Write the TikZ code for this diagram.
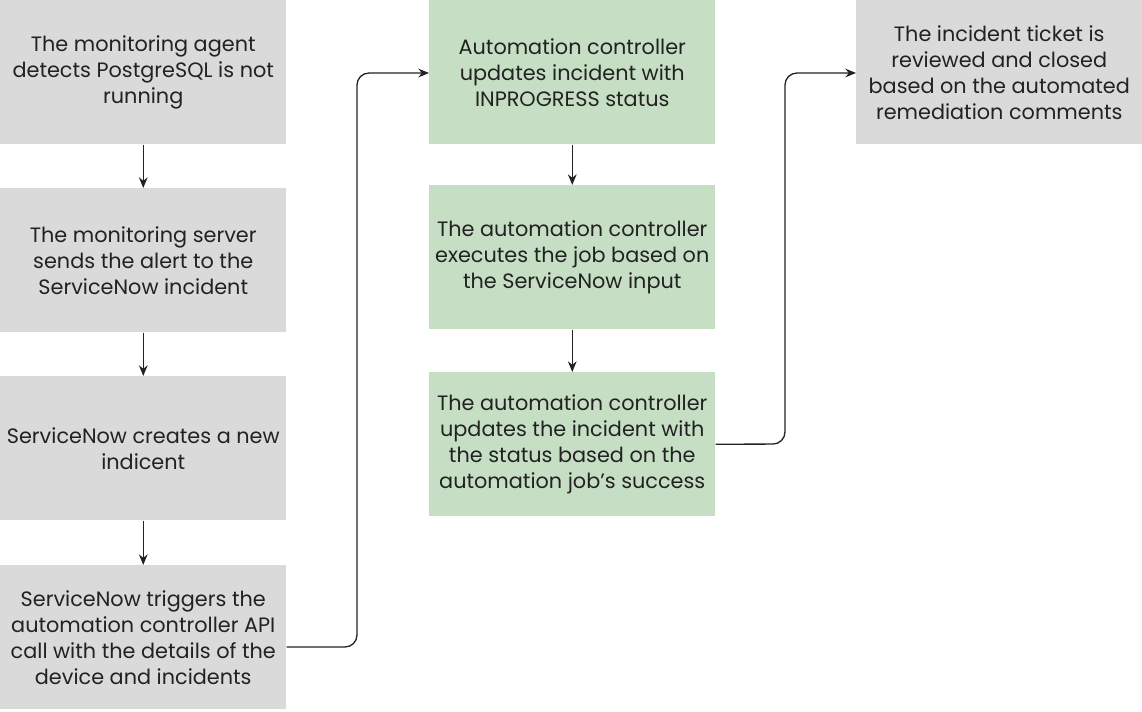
\documentclass[tikz,border=0pt]{standalone}
\usepackage{fontspec}
\setmainfont{Poppins}
\usetikzlibrary{arrows.meta}
\definecolor{graybox}{HTML}{DADADA}
\definecolor{greenbox}{HTML}{C6DFC4}
\definecolor{ink}{HTML}{222222}
\begin{document}
\begin{tikzpicture}[x=0.75pt,y=-0.75pt,
  box/.style={fill=#1, draw=none, minimum width=214.5pt, minimum height=108pt, inner sep=0pt,
    align=center, text=ink, font=\fontsize{15.6pt}{19.5pt}\selectfont, anchor=north west},
  conn/.style={draw=ink, line width=1pt, -{Stealth[length=8pt,width=6.5pt]}},
  elbow/.style={conn, rounded corners=9pt}]
\useasboundingbox (0,0) rectangle (1142,711);
% column 1
\node[box=graybox] (a1) at (0,0) {The monitoring agent\\detects PostgreSQL is not\\running};
\node[box=graybox] (a2) at (0,188) {The monitoring server\\sends the alert to the\\ServiceNow incident};
\node[box=graybox] (a3) at (0,376) {ServiceNow creates a new\\indicent};
\node[box=graybox] (a4) at (0,565) {ServiceNow triggers the\\automation controller API\\call with the details of the\\device and incidents};
% column 2
\node[box=greenbox] (b1) at (429,0) {Automation controller\\updates incident with\\INPROGRESS status};
\node[box=greenbox] (b2) at (429,185) {The automation controller\\executes the job based on\\the ServiceNow input};
\node[box=greenbox] (b3) at (429,372) {The automation controller\\updates the incident with\\the status based on the\\automation job’s success};
% column 3
\node[box=graybox] (c1) at (856,0) {The incident ticket is\\reviewed and closed\\based on the automated\\remediation comments};
% connectors
\draw[conn] (a1.south) -- (a2.north);
\draw[conn] (a2.south) -- (a3.north);
\draw[conn] (a3.south) -- (a4.north);
\draw[conn] (b1.south) -- (b2.north);
\draw[conn] (b2.south) -- (b3.north);
\coordinate (s1) at (0,647);
\coordinate (t1) at (0,73);
\coordinate (t2) at (0,73);
\draw[elbow] (a4.east |- s1) -- (357,647) -- (357,73) -- (b1.west |- t1);
\draw[elbow] (b3.east) -- (785,444) -- (785,73) -- (c1.west |- t2);
\end{tikzpicture}
\end{document}
